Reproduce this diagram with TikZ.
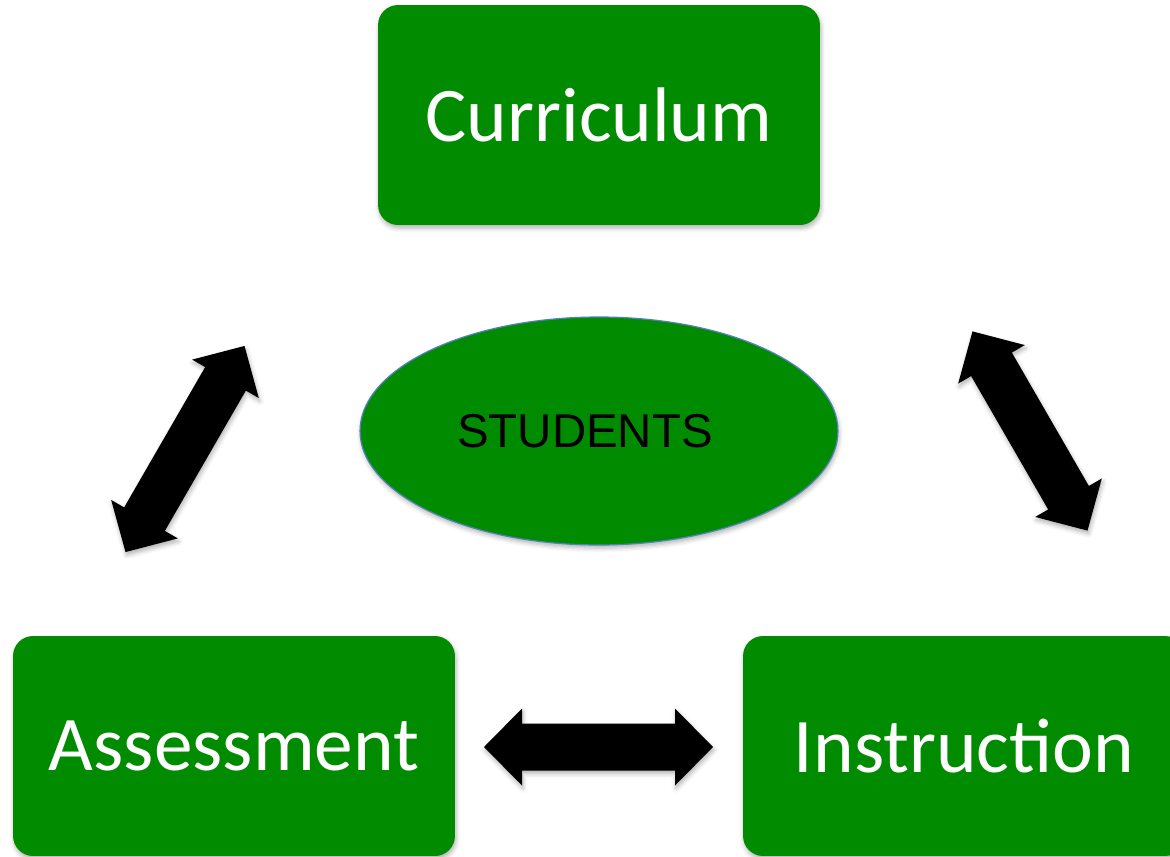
\documentclass[tikz,border=0pt]{standalone}
\usepackage{fontspec}
\setmainfont{Carlito}
\newfontfamily\arialfont{Liberation Sans}
\usetikzlibrary{shapes.geometric,shadows.blur}
\definecolor{boxgreen}{RGB}{0,139,0}
\definecolor{rimblue}{RGB}{79,129,189}
\begin{document}
\begin{tikzpicture}[x=0.02cm, y=-0.02cm,
		soft/.style={blur shadow={shadow xshift=0.6pt, shadow yshift=-1.8pt, shadow blur radius=2.5pt, shadow opacity=30}},
		topic/.style={fill=boxgreen, text=white, rounded corners=0.4cm, minimum width=8.84cm, minimum height=4.4cm, font=\fontsize{44}{50}\selectfont, soft},
		pics/twoway/.style={code={
			\fill[black, soft] (-#1,0) -- (-#1+38,-38.5) -- (-#1+38,-23.5) -- (#1-38,-23.5) -- (#1-38,-38.5)
				-- (#1,0) -- (#1-38,38.5) -- (#1-38,23.5) -- (-#1+38,23.5) -- (-#1+38,38.5) -- cycle;
		}}]
		\clip (0,0) rectangle (1170,856);
		\node[topic] (curr) at (599,115) {Curriculum};
		\node[topic] (assess) at (234,746) {Assessment};
		\node[topic] (instr) at (964,746) {Instruction};
		\node[ellipse, fill=boxgreen, draw=rimblue, line width=0.7pt, inner sep=0pt, minimum width=9.56cm, minimum height=4.56cm, font=\arialfont\fontsize{27}{30}\selectfont, soft] (students) at (599,431) {\raisebox{-0.05cm}{STUDENTS}\hspace*{0.56cm}};
		% block arrows between the topics
		\pic[rotate=60] at (185,449) {twoway=119};
		\pic[rotate=-60] at (1030,431) {twoway=115};
		\pic at (598.5,747) {twoway=114.5};
\end{tikzpicture}
\end{document}
